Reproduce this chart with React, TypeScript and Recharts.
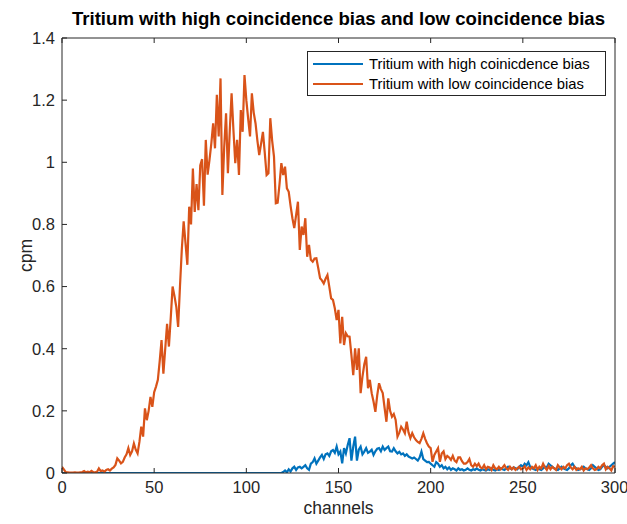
import React from "react";
import {
    LineChart,
    Line,
    XAxis,
    YAxis,
} from "recharts";

const channels = Array.from({ length: 301 }, (_, i) => i);

const highBias = [
    0, 0, 0, 0, 0, 0, 0, 0, 0, 0,
    0, 0, 0, 0, 0, 0, 0, 0, 0, 0,
    0, 0, 0, 0, 0, 0, 0, 0, 0, 0,
    0, 0, 0, 0, 0, 0, 0, 0, 0, 0,
    0, 0, 0, 0, 0, 0, 0, 0, 0, 0,
    0, 0, 0, 0, 0, 0, 0, 0, 0, 0,
    0, 0, 0, 0, 0, 0, 0, 0, 0, 0,
    0, 0, 0, 0, 0, 0, 0, 0, 0, 0,
    0, 0, 0, 0, 0, 0, 0, 0, 0, 0,
    0, 0, 0, 0, 0, 0, 0, 0, 0, 0,
    0, 0, 0, 0, 0, 0, 0, 0, 0, 0,
    0, 0, 0, 0, 0, 0, 0, 0, 0, 0,
    0.003, 0.008, 0.002, 0.012, 0.005, 0.015, 0.02, 0.01, 0.018, 0.02,
    0.015, 0.02, 0.025, 0.015, 0.01, 0.03, 0.035, 0.047, 0.03, 0.04,
    0.05, 0.058, 0.045, 0.06, 0.063, 0.055, 0.07, 0.074, 0.065, 0.085,
    0.06, 0.069, 0.031, 0.08, 0.063, 0.09, 0.112, 0.04, 0.085, 0.117,
    0.04, 0.075, 0.085, 0.06, 0.069, 0.08, 0.065, 0.069, 0.075, 0.058,
    0.07, 0.078, 0.08, 0.07, 0.085, 0.074, 0.08, 0.085, 0.07, 0.069,
    0.08, 0.07, 0.063, 0.068, 0.06, 0.063, 0.055, 0.06, 0.053, 0.05,
    0.047, 0.05, 0.045, 0.04, 0.05, 0.069, 0.045, 0.04, 0.035, 0.036,
    0.03, 0.025, 0.02, 0.035, 0.03, 0.02, 0.025, 0.015, 0.02, 0.012,
    0.018, 0.01, 0.015, 0.012, 0.008, 0.015, 0.01, 0.012, 0.008, 0.01,
    0.015, 0.01, 0.008, 0.012, 0.01, 0.015, 0.01, 0.008, 0.012, 0.01,
    0.008, 0.012, 0.01, 0.015, 0.01, 0.008, 0.012, 0.01, 0.015, 0.012,
    0.01, 0.015, 0.02, 0.015, 0.012, 0.018, 0.015, 0.012, 0.02, 0.025,
    0.02, 0.03, 0.025, 0.035, 0.02, 0.015, 0.012, 0.01, 0.015, 0.012,
    0.01, 0.015, 0.02, 0.018, 0.03, 0.025, 0.02, 0.015, 0.012, 0.01,
    0.015, 0.02, 0.015, 0.012, 0.01, 0.015, 0.025, 0.03, 0.02, 0.015,
    0.01, 0.012, 0.015, 0.02, 0.015, 0.012, 0.01, 0.015, 0.025, 0.02,
    0.015, 0.01, 0.012, 0.02, 0.025, 0.02, 0.015, 0.02, 0.025, 0.03,
    0.035,
];

const lowBias = [
    0.02, 0.012, 0.003, 0.002, 0.001, 0.001, 0.001, 0.002, 0.001, 0.001,
    0.002, 0.003, 0.006, 0.002, 0.004, 0.002, 0.007, 0.003, 0.002, 0.004,
    0.015, 0.006, 0.008, 0.004, 0.01, 0.012, 0.008, 0.014, 0.018, 0.026,
    0.047, 0.04, 0.031, 0.036, 0.05, 0.06, 0.08, 0.058, 0.07, 0.095,
    0.075, 0.063, 0.1, 0.149, 0.117, 0.208, 0.17, 0.2, 0.245, 0.213,
    0.26, 0.278, 0.3, 0.36, 0.428, 0.32, 0.4, 0.48, 0.407, 0.5,
    0.6, 0.57, 0.535, 0.47, 0.6, 0.72, 0.81, 0.74, 0.67, 0.857,
    0.8, 0.98, 0.84, 0.93, 0.846, 0.99, 1.01, 0.86, 1.072, 0.96,
    1.007, 1.06, 1.125, 1.045, 1.217, 1.083, 1.27, 0.895, 1.05, 1.158,
    0.965, 1.1, 1.222, 1.104, 0.997, 1.072, 0.959, 1.168, 1.098, 1.281,
    1.2, 1.14, 1.083, 1.222, 1.16, 1.125, 1.07, 1.023, 1.06, 1.098,
    1.03, 0.959, 0.965, 1.142, 1.07, 1.018, 0.868, 0.87, 0.93, 0.997,
    0.959, 0.986, 0.916, 0.905, 0.86, 0.82, 0.788, 0.83, 0.873, 0.718,
    0.793, 0.766, 0.82, 0.696, 0.734, 0.686, 0.68, 0.69, 0.691, 0.66,
    0.627, 0.62, 0.61, 0.625, 0.637, 0.6, 0.562, 0.557, 0.53, 0.492,
    0.525, 0.417, 0.503, 0.412, 0.45, 0.44, 0.439, 0.38, 0.315, 0.401,
    0.332, 0.401, 0.257, 0.31, 0.35, 0.374, 0.273, 0.3, 0.257, 0.23,
    0.197, 0.25, 0.289, 0.27, 0.257, 0.21, 0.165, 0.24, 0.2, 0.181,
    0.19, 0.171, 0.117, 0.13, 0.149, 0.14, 0.128, 0.165, 0.13, 0.112,
    0.128, 0.115, 0.106, 0.1, 0.096, 0.11, 0.128, 0.11, 0.096, 0.085,
    0.08, 0.036, 0.058, 0.069, 0.08, 0.036, 0.063, 0.07, 0.045, 0.055,
    0.05, 0.042, 0.055, 0.04, 0.035, 0.05, 0.05, 0.038, 0.03, 0.03,
    0.035, 0.045, 0.025, 0.02, 0.03, 0.022, 0.03, 0.018, 0.015, 0.025,
    0.012, 0.02, 0.018, 0.01, 0.025, 0.015, 0.012, 0.02, 0.012, 0.018,
    0.025, 0.015, 0.01, 0.02, 0.012, 0.018, 0.01, 0.015, 0.02, 0.012,
    0.015, 0.022, 0.01, 0.018, 0.012, 0.02, 0.015, 0.025, 0.01, 0.02,
    0.015, 0.03, 0.018, 0.01, 0.022, 0.012, 0.02, 0.015, 0.01, 0.025,
    0.018, 0.012, 0.02, 0.015, 0.025, 0.03, 0.018, 0.012, 0.02, 0.01,
    0.015, 0.012, 0.02, 0.008, 0.015, 0.012, 0.018, 0.025, 0.015, 0.01,
    0.012, 0.02, 0.015, 0.025, 0.03, 0.012, 0.02, 0.015, 0.008, 0.022,
    0.02,
];

const xTicks = [0, 50, 100, 150, 200, 250, 300];
const yTicks = [0, 0.2, 0.4, 0.6, 0.8, 1, 1.2, 1.4];

const TITLE = "Tritium with high coincidence bias and low coincidence bias";
const HIGH_NAME = "Tritium with high coinicdence bias";
const LOW_NAME = "Tritium with low coincidence bias";

const BLUE = "#0072BD";
const ORANGE = "#D95319";
const AXIS = "#262626";
const FONT = "'Liberation Sans', Arial, Helvetica, sans-serif";

const data = channels.map((ch, i) => ({
    ch,
    high: highBias[i],
    low: lowBias[i],
}));

const NoTick = () => <g />;

// y label, centred on the plot height, just left of the tick labels
const CpmLabel = (props: any) => {
    const vb = props.viewBox || {};
    const cx = 26;
    const cy = (vb.y ?? 37) + (vb.height ?? 436) / 2;
    return (
        <text
            x={cx}
            y={cy}
            transform={`rotate(-90 ${cx} ${cy})`}
            textAnchor="middle"
            dominantBaseline="central"
            fill={AXIS}
            fontSize={17.5}
            fontFamily={FONT}
        >
            cpm
        </text>
    );
};

function LegendBox() {
    const rows = [
        { name: HIGH_NAME, color: BLUE },
        { name: LOW_NAME, color: ORANGE },
    ];
    return (
        <div
            style={{
                position: "absolute",
                left: 307,
                top: 51,
                width: 299,
                height: 45,
                boxSizing: "border-box",
                border: "1px solid #262626",
                background: "#fff",
                padding: "2px 0 0 5px",
                fontFamily: FONT,
                fontSize: 14.8,
                color: "#000",
            }}
        >
            {rows.map((r) => (
                <div
                    key={r.name}
                    style={{ display: "flex", alignItems: "center", height: 20 }}
                >
                    <span
                        style={{
                            display: "inline-block",
                            width: 50,
                            height: 0,
                            borderTop: `2.5px solid ${r.color}`,
                            marginRight: 6,
                        }}
                    />
                    <span>{r.name}</span>
                </div>
            ))}
        </div>
    );
}

export default function App() {
    return (
        <div
            style={{
                position: "absolute",
                left: 0,
                top: 0,
                width: 627,
                height: 524,
                background: "#fff",
            }}
        >
            <div
                style={{
                    position: "absolute",
                    top: 8,
                    left: 62,
                    width: 553,
                    textAlign: "center",
                    fontFamily: FONT,
                    fontWeight: "bold",
                    fontSize: 18.6,
                    whiteSpace: "nowrap",
                    color: "#000",
                }}
            >
                {TITLE}
            </div>

            <LineChart
                width={627}
                height={524}
                data={data}
                margin={{ top: 37, right: 11, bottom: 21, left: 22 }}
            >
                <XAxis
                    dataKey="ch"
                    type="number"
                    domain={[0, 300]}
                    ticks={xTicks}
                    allowDataOverflow
                    height={30}
                    tickSize={-5}
                    tickMargin={13}
                    stroke={AXIS}
                    tick={{ fill: AXIS, fontSize: 16.5, fontFamily: FONT }}
                    label={{
                        value: "channels",
                        position: "insideBottom",
                        offset: -11,
                        fill: AXIS,
                        fontSize: 17.5,
                        fontFamily: FONT,
                    }}
                />
                <XAxis
                    xAxisId="top"
                    dataKey="ch"
                    type="number"
                    orientation="top"
                    domain={[0, 300]}
                    ticks={xTicks}
                    height={1}
                    tickSize={-5}
                    stroke={AXIS}
                    tick={NoTick}
                />
                <YAxis
                    type="number"
                    domain={[0, 1.4]}
                    ticks={yTicks}
                    allowDataOverflow
                    width={40}
                    tickSize={-5}
                    tickMargin={12}
                    stroke={AXIS}
                    tick={{ fill: AXIS, fontSize: 16.5, fontFamily: FONT }}
                    label={{ content: CpmLabel }}
                />
                <YAxis
                    yAxisId="right"
                    orientation="right"
                    type="number"
                    domain={[0, 1.4]}
                    ticks={yTicks}
                    width={1}
                    tickSize={-5}
                    stroke={AXIS}
                    tick={NoTick}
                />
                <Line
                    type="linear"
                    dataKey="high"
                    name={HIGH_NAME}
                    stroke={BLUE}
                    strokeWidth={2.2}
                    dot={false}
                    isAnimationActive={false}
                />
                <Line
                    type="linear"
                    dataKey="low"
                    name={LOW_NAME}
                    stroke={ORANGE}
                    strokeWidth={2.2}
                    dot={false}
                    isAnimationActive={false}
                />
            </LineChart>

            <LegendBox />
        </div>
    );
}
